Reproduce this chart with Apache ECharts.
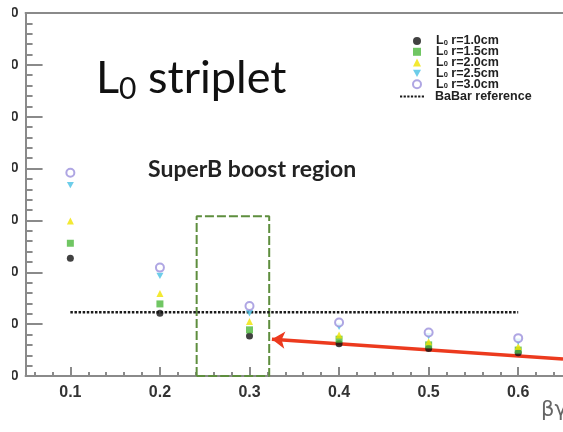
<!DOCTYPE html>
<html><head><meta charset="utf-8">
<script src="https://cdn.jsdelivr.net/npm/echarts@6/dist/echarts.min.js"></script>
<style>html,body{margin:0;padding:0;background:#fff}#c{width:563px;height:432px}</style>
</head><body><div id="c"></div>
<script>
// ---- data ----
const betaGamma = [0.1, 0.2, 0.3, 0.4, 0.5, 0.6];
const r10 = [22.7, 12.1, 7.7, 6.2, 5.3, 4.5];
const r15 = [25.6, 13.9, 8.9, 7.1, 6.0, 5.0];
const r20 = [29.9, 15.9, 10.5, 7.9, 6.6, 5.7];
const r25 = [36.8, 19.3, 12.1, 9.5, 7.7, 6.6];
const r30 = [39.2, 20.9, 13.5, 10.3, 8.4, 7.3];
const seriesNames = ['L0 r=1.0cm', 'L0 r=1.5cm', 'L0 r=2.0cm', 'L0 r=2.5cm', 'L0 r=3.0cm'];
const babarName = 'BaBar reference';
const babarValue = 12.3;
const babarRange = [0.1, 0.6];
const boostRegion = [0.241, 0.322];
const boostTop = 30.8;
const arrowFrom = [0.65, 3.3];
const arrowTo = [0.325, 7.1];
const xRange = [0.05, 0.65];
const xMajorTicks = [0.1, 0.2, 0.3, 0.4, 0.5, 0.6];
const xMinorTicks = [0.06, 0.08, 0.12, 0.14, 0.16, 0.18, 0.22, 0.24, 0.26, 0.28, 0.32, 0.34, 0.36, 0.38, 0.42, 0.44, 0.46, 0.48, 0.52, 0.54, 0.56, 0.58, 0.62, 0.64];
const yRange = [0, 70];
const yInterval = 10;

const allSeries = [r10, r15, r20, r25, r30];
const downTri = 'path://M0,0L10,0L5,9Z';
const dottedIcon = 'path://M0,0h2.2v2.2h-2.2zM3.6,0h2.2v2.2h-2.2zM7.2,0h2.2v2.2h-2.2zM10.8,0h2.2v2.2h-2.2zM14.4,0h2.2v2.2h-2.2zM18,0h2.2v2.2h-2.2zM21.6,0h2.2v2.2h-2.2z';
const styles = [
  {symbol: 'circle', size: 7, color: '#111111'},
  {symbol: 'rect', size: 7, color: '#4cb83c'},
  {symbol: 'triangle', size: 7, color: '#f0e400'},
  {symbol: downTri, size: 7, color: '#48c0e4'},
  {symbol: 'emptyCircle', size: 8, color: '#9b90dc', empty: true}
];

const chart = echarts.init(document.getElementById('c'), null, {renderer: 'canvas'});
const axisGray = '#8a8a8a';

const series = allSeries.map((vals, i) => ({
  name: seriesNames[i],
  type: 'scatter',
  xAxisIndex: 0, yAxisIndex: 0,
  symbol: styles[i].symbol,
  symbolSize: styles[i].size,
  symbolKeepAspect: true,
  itemStyle: styles[i].empty ? {color: styles[i].color, borderColor: styles[i].color, borderWidth: 1.6} : {color: styles[i].color},
  data: betaGamma.map((x, j) => [x, vals[j]]),
  z: 5 + i
}));

series.push({
  name: babarName,
  type: 'line',
  xAxisIndex: 0, yAxisIndex: 0,
  symbol: 'none',
  data: babarRange.map(x => [x, babarValue]),
  lineStyle: {color: '#1a1a1a', width: 2.5, type: [2.5, 1.6]},
  itemStyle: {color: '#1a1a1a'},
  z: 3
});

series.push({
  name: 'boost',
  type: 'line',
  xAxisIndex: 0, yAxisIndex: 0,
  symbol: 'none',
  data: [[boostRegion[0], yRange[0]], [boostRegion[0], boostTop], [boostRegion[1], boostTop], [boostRegion[1], yRange[0]], [boostRegion[0], yRange[0]]],
  lineStyle: {color: '#5e8e3e', width: 2, type: [9, 3]},
  z: 2
});

series.push({
  name: 'arrow',
  type: 'lines',
  coordinateSystem: 'cartesian2d',
  xAxisIndex: 0, yAxisIndex: 0,
  symbol: ['none', 'arrow'],
  symbolSize: 13,
  lineStyle: {color: '#ec3a1e', width: 3.5, opacity: 1},
  data: [{coords: [arrowFrom, arrowTo]}],
  z: 4
});

const legendRich = {
  l: {fontSize: 12.5, fontWeight: 'bold', color: '#222', fontFamily: 'Liberation Sans', lineHeight: 11, padding: [0, 0, 0, 10]},
  b: {fontSize: 12.5, fontWeight: 'bold', color: '#222', fontFamily: 'Liberation Sans', lineHeight: 11, padding: [0, 0, 0, 6]},
  a: {fontSize: 12.5, fontWeight: 'bold', color: '#222', fontFamily: 'Liberation Sans', lineHeight: 11},
  s: {fontSize: 7.5, fontWeight: 'bold', color: '#222', fontFamily: 'Liberation Sans', lineHeight: 4, verticalAlign: 'bottom'}
};
const legendText = {fontSize: 12.5, fontWeight: 'bold', color: '#222', fontFamily: 'Liberation Sans', lineHeight: 11, rich: legendRich};
const legendFormatter = name => name.startsWith('L0') ? '{l|L}{s|0}{a|' + name.slice(2) + '}' : '{b|' + name + '}';

const option = {
  animation: false,
  backgroundColor: '#fff',
  grid: {left: 22, right: 0, top: 13, bottom: 56, containLabel: false},
  xAxis: [
    {
      type: 'value', min: xRange[0], max: xRange[1], position: 'bottom',
      axisLine: {show: true, onZero: false, lineStyle: {color: axisGray, width: 2}},
      axisTick: {show: true, inside: true, length: 9, customValues: xMajorTicks, lineStyle: {color: axisGray, width: 2}},
      axisLabel: {show: true, customValues: xMajorTicks, margin: 9, fontSize: 16, fontWeight: 'bold', color: '#333', fontFamily: 'Liberation Sans',
        formatter: v => v.toFixed(1)},
      splitLine: {show: false}
    },
    {
      type: 'value', min: xRange[0], max: xRange[1], position: 'bottom',
      axisLine: {show: false},
      axisTick: {show: true, inside: true, length: 4, customValues: xMinorTicks, lineStyle: {color: axisGray, width: 2}},
      axisLabel: {show: false},
      splitLine: {show: false}
    },
    {
      type: 'value', min: xRange[0], max: xRange[1], position: 'top',
      axisLine: {show: true, onZero: false, lineStyle: {color: axisGray, width: 2}},
      axisTick: {show: false}, axisLabel: {show: false}, splitLine: {show: false}
    }
  ],
  yAxis: {
    type: 'value', min: yRange[0], max: yRange[1], interval: yInterval,
    axisLine: {show: true, onZero: false, lineStyle: {color: axisGray, width: 2}},
    axisTick: {show: true, inside: true, length: 17, lineStyle: {color: axisGray, width: 2}},
    minorTick: {show: true, splitNumber: 5, length: 7, lineStyle: {color: axisGray, width: 2}},
    axisLabel: {show: true, margin: 7, fontSize: 14, fontWeight: 'bold', color: '#333', fontFamily: 'Liberation Sans'},
    splitLine: {show: false}
  },
  legend: [
    {
      data: seriesNames.map((n, i) => (i === 3 ? {name: n, icon: downTri} : {name: n})),
      orient: 'vertical', left: 412, top: 34.5, padding: 0,
      itemWidth: 8, itemHeight: 8, itemGap: -2.2,
      symbolKeepAspect: true,
      textStyle: legendText,
      formatter: legendFormatter
    },
    {
      data: [{name: babarName, icon: dottedIcon}],
      orient: 'vertical', left: 400, top: 90, padding: 0,
      itemWidth: 24, itemHeight: 2.2, itemGap: 0,
      symbolKeepAspect: false,
      textStyle: legendText,
      formatter: legendFormatter
    }
  ],
  graphic: [
    {type: 'rect', left: 0, top: 0, shape: {width: 12, height: 432}, style: {fill: '#fff'}, z: 100},
    {type: 'text', left: 96, top: 56, z: 50, style: {
      text: '{a|L}{s|0}{a| striplet}',
      rich: {
        a: {fontSize: 45, fontFamily: 'Lato', fill: '#111'},
        s: {fontSize: 30, fontFamily: 'Lato', fill: '#111', padding: [22, 0, 0, 0]}
      }}},
    {type: 'text', left: 148, top: 158, z: 50, style: {text: 'SuperB boost region', fontSize: 23, fontWeight: 'bold', fontFamily: 'Lato', fill: '#222'}},
    {type: 'text', left: 541, top: 400, z: 50, style: {text: 'βγ', fontSize: 21, fontFamily: 'DejaVu Sans', fill: '#666'}}
  ],
  series: series
};
chart.setOption(option);
</script>
</body></html>
